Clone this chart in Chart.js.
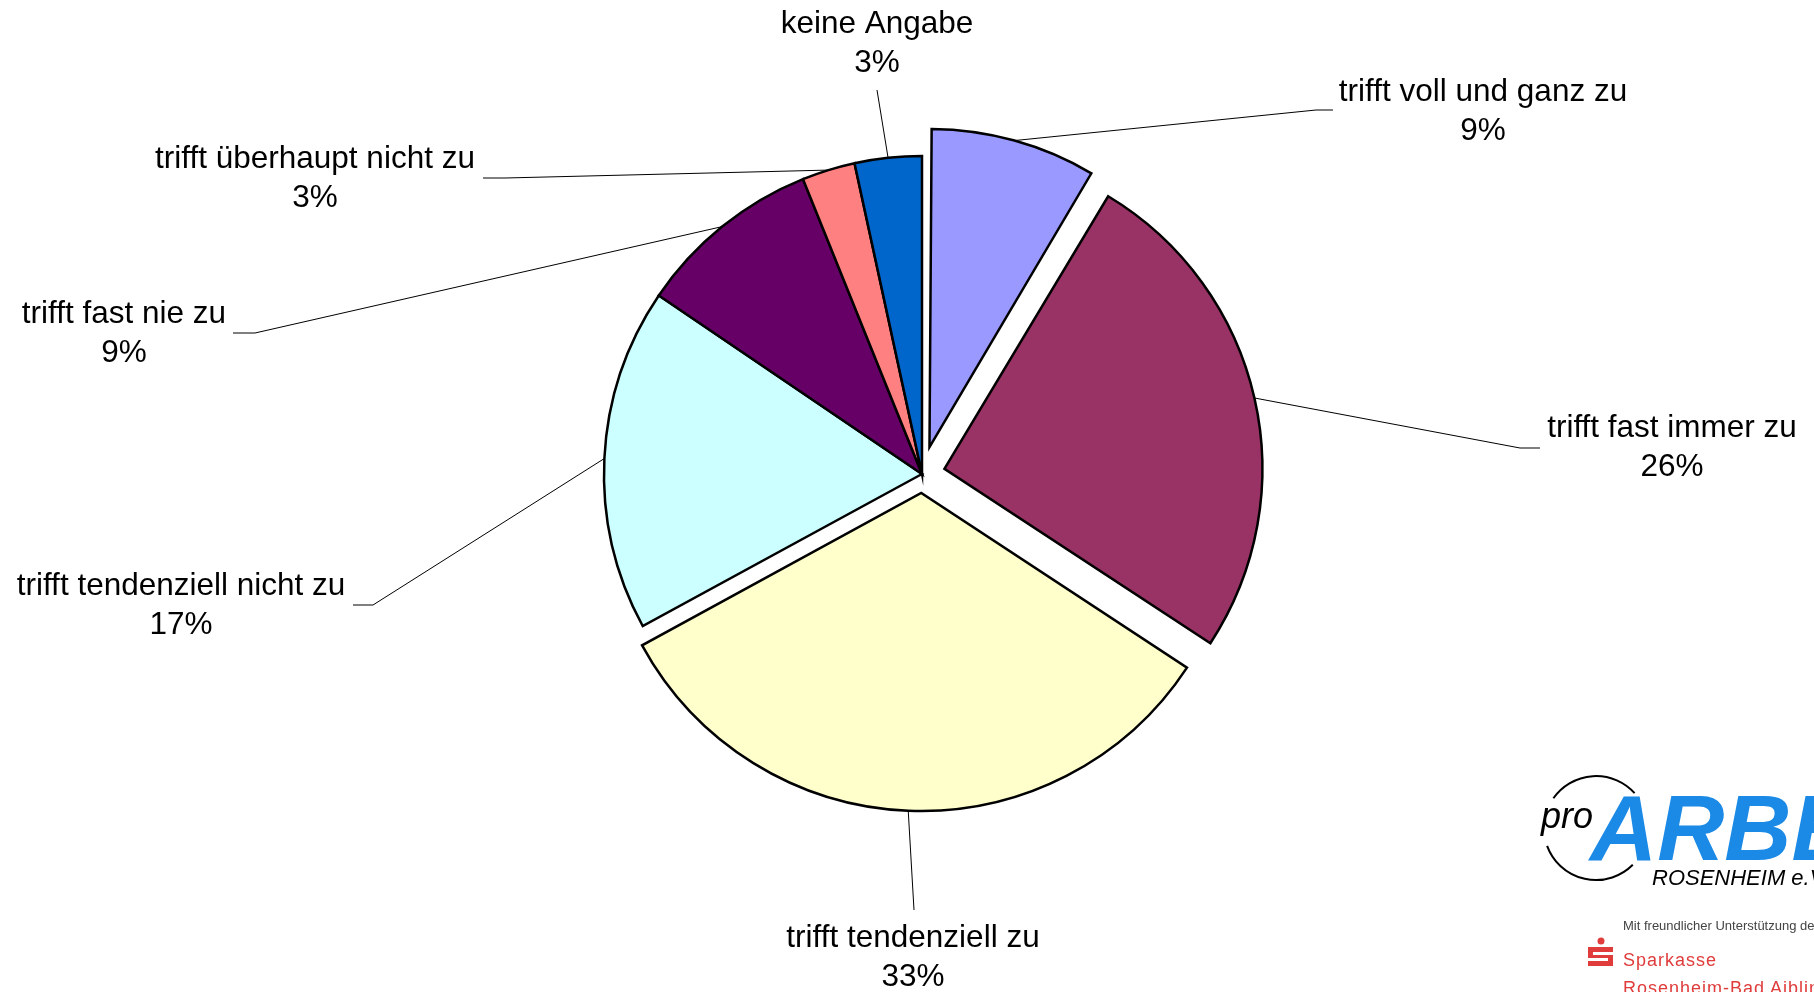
<!DOCTYPE html>
<html>
<head>
<meta charset="utf-8">
<script src="https://cdn.jsdelivr.net/npm/chart.js@4.4.1/dist/chart.umd.min.js"></script>
<style>
  html, body { margin: 0; padding: 0; background: #fff; }
  #wrap { position: relative; width: 1814px; height: 992px; overflow: hidden; }
  #logo { position: absolute; left: 0; top: 0; }
  #logo text { font-family: "Liberation Sans", Arial, sans-serif; }
</style>
</head>
<body>
<div id="wrap">
  <canvas id="myChart" width="1814" height="992"></canvas>
  <svg id="logo" width="1814" height="992">
    <path d="M 1553.4 798.2 A 52 52 0 0 1 1634.6 793.2" fill="none" stroke="#000" stroke-width="2"/>
    <path d="M 1632.8 864.8 A 52 52 0 0 1 1547.1 845.8" fill="none" stroke="#000" stroke-width="2"/>
    <text x="1541" y="828" font-style="italic" font-size="36">pro</text>
    <text x="1590" y="860" font-style="italic" font-weight="bold" font-size="93" fill="#1b8ae6">ARBEIT</text>
    <text x="1652" y="885" font-style="italic" font-size="22">ROSENHEIM e.V.</text>
    <text x="1623" y="930" font-size="13" fill="#444">Mit freundlicher Unterstützung der</text>
    <circle cx="1601" cy="941" r="3.5" fill="#e03c3c"/>
    <path d="M1588 947h25v5h-20v3h20v11h-25v-5h20v-3h-20z" fill="#e03c3c"/>
    <text x="1623" y="966" font-size="18" letter-spacing="1" fill="#e03c3c">Sparkasse</text>
    <text x="1623" y="994" font-size="18" letter-spacing="1" fill="#e03c3c">Rosenheim-Bad Aibling</text>
  </svg>
</div>
<script>
var categories = [
  'trifft voll und ganz zu',
  'trifft fast immer zu',
  'trifft tendenziell zu',
  'trifft tendenziell nicht zu',
  'trifft fast nie zu',
  'trifft überhaupt nicht zu',
  'keine Angabe'
];
// shares in % (labels show them rounded)
var values = [8.6, 25.6, 32.8, 17.4, 9.4, 2.7, 3.4];

// styles
var colors = ['#9999FF', '#993366', '#FFFFCC', '#CCFFFF', '#660066', '#FF8080', '#0066CC'];
var explode = [28, 23, 19, 0, 0, 0, 0];

// where each label sits (text centre, first baseline) and the leader's bends
var labelPos = [
  {x: 1483, y: 101, path: [[1316, 110], [1333, 110]]},
  {x: 1672, y: 437, path: [[1520, 448], [1540, 448]]},
  {x: 913, y: 947, path: [[914, 910]]},
  {x: 181, y: 595, path: [[373, 605], [353, 605]]},
  {x: 124, y: 323, path: [[255, 333], [233, 333]]},
  {x: 315, y: 168, path: [[505, 178], [483, 178]]},
  {x: 877, y: 33, path: [[877, 90]]}
];

function radiusFix(arc, i) {
  // chart.js grows small exploded slices, undo that
  return explode[i] * (1 - Math.sin(Math.min(Math.PI, arc.circumference || 0)));
}

const fixRadius = {
  id: 'fixRadius',
  afterDatasetUpdate: function (chart, args) {
    args.meta.data.forEach(function (arc, i) {
      arc.outerRadius -= radiusFix(arc, i);
    });
  }
};

const pieLabels = {
  id: 'pieLabels',
  afterDatasetsDraw: function (chart) {
    var ctx = chart.ctx;
    var meta = chart.getDatasetMeta(0);
    var total = values.reduce(function (a, b) { return a + b; }, 0);
    ctx.save();
    meta.data.forEach(function (arc, i) {
      var mid = (arc.startAngle + arc.endAngle) / 2;
      var r = arc.outerRadius + radiusFix(arc, i) + explode[i];
      var sx = arc.x + Math.cos(mid) * r;
      var sy = arc.y + Math.sin(mid) * r;
      var lp = labelPos[i];
      ctx.beginPath();
      ctx.moveTo(sx, sy);
      lp.path.forEach(function (p) { ctx.lineTo(p[0], p[1]); });
      ctx.lineWidth = 1;
      ctx.strokeStyle = '#000';
      ctx.stroke();

      ctx.fillStyle = '#000';
      ctx.font = '31.5px "Liberation Sans", Arial, sans-serif';
      ctx.textAlign = 'center';
      ctx.textBaseline = 'alphabetic';
      ctx.fillText(categories[i], lp.x, lp.y);
      ctx.fillText(Math.round(values[i] / total * 100) + '%', lp.x, lp.y + 39);
    });
    ctx.restore();
  }
};

window.onload = function () {
  const ctx = document.getElementById('myChart');
  const myChart = new Chart(ctx, {
    type: 'pie',
    data: {
      labels: categories,
      datasets: [{
        data: values,
        backgroundColor: colors,
        borderColor: '#000',
        borderWidth: 2.5,
        borderJoinStyle: 'miter',
        offset: explode.map(function (e) { return e * 4; }),
        hoverOffset: 0,
        radius: 318
      }]
    },
    options: {
      responsive: false,
      animation: false,
      events: [],
      layout: { padding: { left: 30, right: 0, top: 0, bottom: 44 } },
      plugins: {
        legend: { display: false },
        tooltip: { enabled: false }
      }
    },
    plugins: [fixRadius, pieLabels]
  });
};
</script>
</body>
</html>
